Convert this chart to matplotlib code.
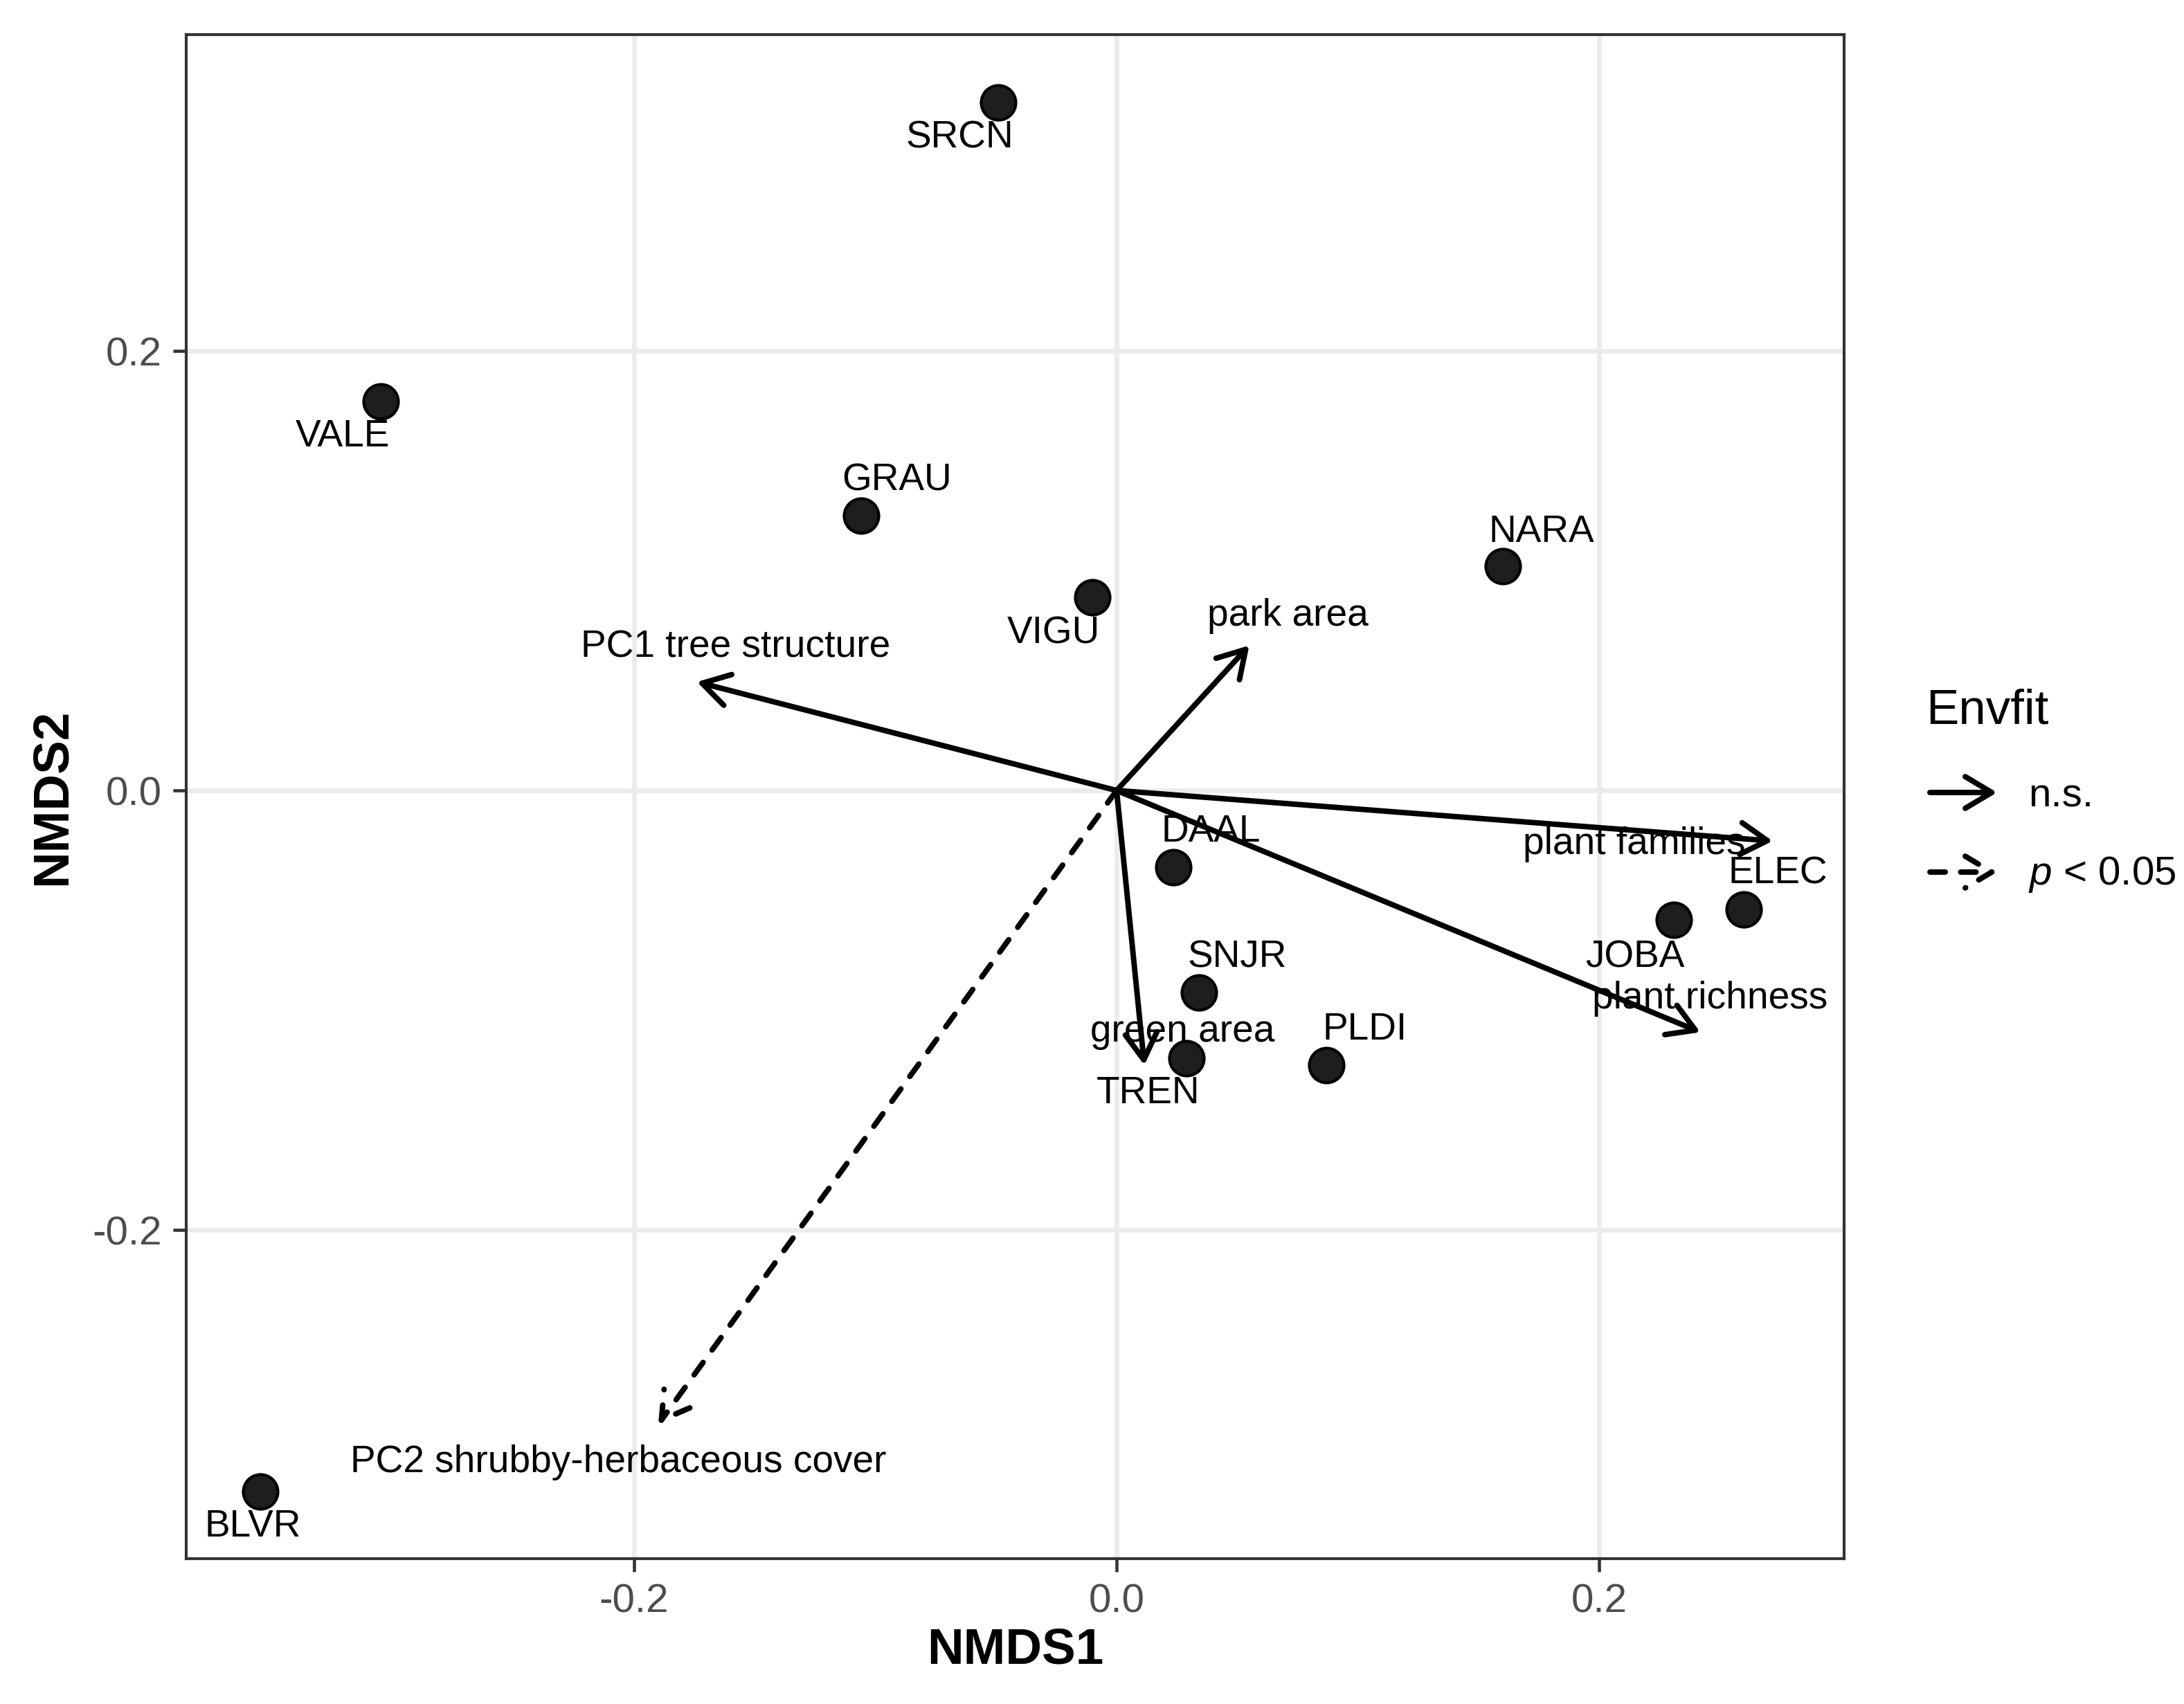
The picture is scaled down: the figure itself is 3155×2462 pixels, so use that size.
import matplotlib
matplotlib.use("Agg")
import matplotlib.pyplot as plt
from matplotlib.patches import FancyArrowPatch

plt.rcParams['font.family'] = ['Liberation Sans', 'DejaVu Sans']
plt.rcParams['mathtext.fontset'] = 'custom'
plt.rcParams['mathtext.it'] = 'Liberation Sans:italic'
plt.rcParams['mathtext.rm'] = 'Liberation Sans'

# ---- data ----
sites = ["SRCN", "VALE", "GRAU", "VIGU", "NARA", "DAAL", "ELEC", "JOBA",
         "SNJR", "TREN", "PLDI", "BLVR"]
nmds1 = [-0.049, -0.305, -0.106, -0.010, 0.160, 0.0235, 0.260, 0.231,
         0.034, 0.029, 0.087, -0.355]
nmds2 = [0.313, 0.177, 0.125, 0.088, 0.102, -0.035, -0.054, -0.059,
         -0.092, -0.122, -0.125, -0.319]
site_lab_x = [-0.065, -0.321, -0.091, -0.026, 0.176, 0.039, 0.274, 0.215,
              0.050, 0.013, 0.103, -0.358]
site_lab_y = [0.297, 0.161, 0.141, 0.0715, 0.1175, -0.019, -0.038, -0.076,
              -0.076, -0.138, -0.109, -0.335]

vec_names = ["PC1 tree structure", "park area", "plant families",
             "plant richness", "green area", "PC2 shrubby-herbaceous cover"]
vec_x = [-0.174, 0.055, 0.272, 0.242, 0.0115, -0.190]
vec_y = [0.0494, 0.066, -0.023, -0.110, -0.125, -0.2885]
vec_sig = ["n.s.", "n.s.", "n.s.", "n.s.", "n.s.", "p < 0.05"]
vec_lab_x = [-0.158, 0.071, 0.2146, 0.246, 0.0273, -0.2066]
vec_lab_y = [0.0652, 0.0794, -0.0246, -0.0948, -0.1098, -0.3058]

xticks = [-0.2, 0.0, 0.2]
yticks = [-0.2, 0.0, 0.2]
xlim = (-0.3857, 0.3016)
ylim = (-0.3496, 0.344)

sig_levels = ["n.s.", "p < 0.05"]
sig_labels = ["n.s.", r"$p$ < 0.05"]
sig_styles = {"n.s.": "-", "p < 0.05": (0, (2.8, 2.8))}

ARROW = "->,head_length=9.2,head_width=5.5"
ARROW_LW = 1.9

# ---- figure ----
W, H = 3155, 2462
fig = plt.figure(figsize=(W / 300, H / 300), dpi=300)
L, R, T, B = 269, 2664, 50, 2252
ax = fig.add_axes([L / W, 1 - B / H, (R - L) / W, (B - T) / H])
ax.set_xlim(*xlim)
ax.set_ylim(*ylim)
ax.set_xticks(xticks)
ax.set_yticks(yticks)
ax.set_xticklabels([f"{v:.1f}" for v in xticks])
ax.set_yticklabels([f"{v:.1f}" for v in yticks])
ax.grid(True, color="#EBEBEB", lw=1.6, zorder=0)
ax.set_axisbelow(True)
for s in ax.spines.values():
    s.set_color("#333333")
    s.set_linewidth(1.0)
ax.tick_params(axis="both", length=4.6, width=1.1, color="#333333",
               labelsize=14, labelcolor="#4D4D4D", pad=3.8)

ax.set_xlabel("NMDS1", fontsize=17.5, fontweight="bold", va="center")
ax.set_ylabel("NMDS2", fontsize=17.5, fontweight="bold", va="center")
ax.xaxis.set_label_coords(0.5, (B - 2384) / (B - T))
ax.yaxis.set_label_coords((76 - L) / (R - L), 0.5)

# points
ax.scatter(nmds1, nmds2, s=144, c="#1e1e1e", edgecolors="black",
           linewidths=1.0, zorder=3)

# labels
for nm, x, y in zip(sites, site_lab_x, site_lab_y):
    ax.text(x, y, nm, ha="center", va="center", fontsize=13.2, color="black",
            zorder=4)
for nm, x, y in zip(vec_names, vec_lab_x, vec_lab_y):
    ax.text(x, y, nm, ha="center", va="center", fontsize=13.2, color="black",
            zorder=4)

# arrows
for nm, x, y, sig in zip(vec_names, vec_x, vec_y, vec_sig):
    arr = FancyArrowPatch((0, 0), (x, y), arrowstyle=ARROW,
                          mutation_scale=1, lw=ARROW_LW, color="black",
                          linestyle=sig_styles[sig], shrinkA=0, shrinkB=0,
                          zorder=5)
    ax.add_patch(arr)

# legend (manual)
fig.text(2782 / W, 1 - 1045 / H, "Envfit", fontsize=17, ha="left",
         va="baseline")
leg_y = [1145, 1260]
leg_base = [1165, 1278]
for lev, lab, yy, yb in zip(sig_levels, sig_labels, leg_y, leg_base):
    a = FancyArrowPatch((2788 / W, 1 - yy / H), (2885 / W, 1 - yy / H),
                        transform=fig.transFigure, arrowstyle=ARROW,
                        mutation_scale=1, lw=ARROW_LW, color="black",
                        linestyle=sig_styles[lev], shrinkA=0, shrinkB=0)
    fig.add_artist(a)
    fig.text(2930 / W, 1 - yb / H, lab, fontsize=14, ha="left",
             va="baseline")

fig.savefig("out.png", dpi=300, facecolor="white")
